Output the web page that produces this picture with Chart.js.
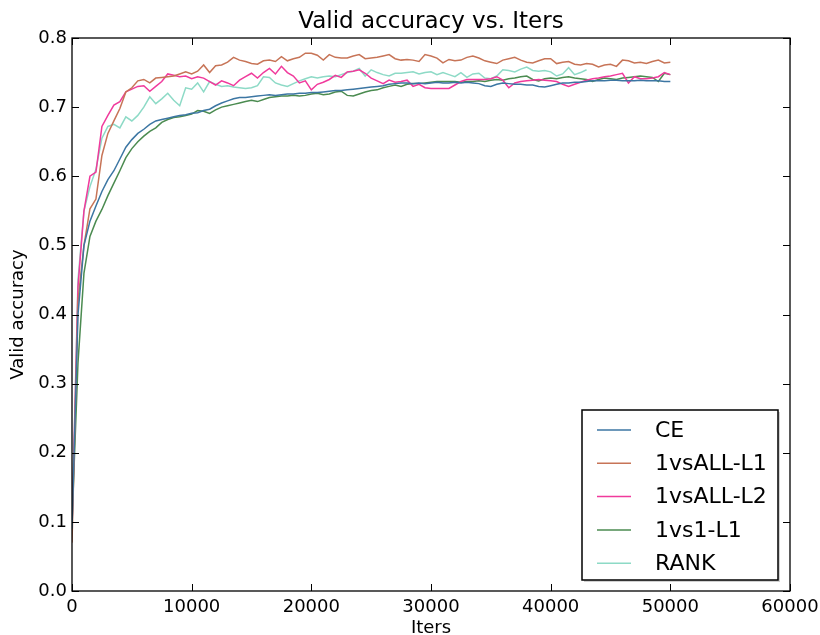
<!DOCTYPE html>
<html>
<head>
<meta charset="utf-8">
<title>Valid accuracy vs. Iters</title>
<script src="https://cdn.jsdelivr.net/npm/chart.js@4.4.1/dist/chart.umd.min.js"></script>
<style>
  html, body { margin: 0; padding: 0; background: #fff; }
  #wrap { width: 820px; height: 635px; }
</style>
</head>
<body>
<div id="wrap"><canvas id="accChart" width="820" height="635"></canvas></div>
<script>
// evaluation every 500 iterations, 0 .. 50000
const EVAL_EVERY = 500;

const seriesNames = ['CE', '1vsALL-L1', '1vsALL-L2', '1vs1-L1', 'RANK'];

const ce = [
  0.09, 0.40, 0.50, 0.535, 0.557, 0.578, 0.595, 0.608, 0.625, 0.642,
  0.653, 0.662, 0.668, 0.675, 0.680, 0.682, 0.684, 0.686, 0.688, 0.689,
  0.691, 0.692, 0.695, 0.697, 0.702, 0.706, 0.709, 0.712, 0.714, 0.714,
  0.715, 0.716, 0.717, 0.718, 0.717, 0.718, 0.719, 0.719, 0.720, 0.720,
  0.721, 0.721, 0.722, 0.723, 0.724, 0.724, 0.725, 0.726, 0.727, 0.728,
  0.729, 0.730, 0.731, 0.733, 0.734, 0.735, 0.735, 0.734, 0.735, 0.734,
  0.735, 0.736, 0.735, 0.735, 0.736, 0.735, 0.736, 0.735, 0.734, 0.731,
  0.730, 0.733, 0.735, 0.734, 0.733, 0.733, 0.732, 0.732, 0.730, 0.729,
  0.731, 0.733, 0.735, 0.735, 0.736, 0.736, 0.737, 0.738, 0.738, 0.738,
  0.739, 0.739, 0.738, 0.738, 0.738, 0.739, 0.738, 0.738, 0.738, 0.737,
  0.737
];

const oneVsAllL1 = [
  0.07, 0.42, 0.50, 0.553, 0.567, 0.630, 0.662, 0.680, 0.698, 0.722,
  0.728, 0.738, 0.740, 0.735, 0.742, 0.743, 0.744, 0.745, 0.748, 0.751,
  0.748, 0.752, 0.761, 0.750, 0.760, 0.761, 0.765, 0.772, 0.768, 0.766,
  0.763, 0.762, 0.767, 0.768, 0.766, 0.773, 0.767, 0.770, 0.772, 0.778,
  0.778, 0.775, 0.768, 0.776, 0.772, 0.771, 0.771, 0.774, 0.776, 0.770,
  0.771, 0.772, 0.774, 0.776, 0.770, 0.768, 0.769, 0.768, 0.766, 0.776,
  0.774, 0.771, 0.764, 0.769, 0.767, 0.768, 0.772, 0.774, 0.771, 0.767,
  0.765, 0.763, 0.768, 0.770, 0.772, 0.768, 0.765, 0.764, 0.767, 0.770,
  0.770, 0.763, 0.765, 0.766, 0.762, 0.761, 0.763, 0.762, 0.758, 0.761,
  0.762, 0.759, 0.768, 0.767, 0.764, 0.765, 0.763, 0.766, 0.768, 0.764,
  0.765
];

const oneVsAllL2 = [
  0.09, 0.44, 0.55, 0.600, 0.606, 0.672, 0.688, 0.703, 0.708, 0.722,
  0.726, 0.730, 0.731, 0.723, 0.730, 0.737, 0.748, 0.746, 0.744, 0.745,
  0.741, 0.744, 0.742, 0.737, 0.732, 0.738, 0.735, 0.731, 0.739, 0.744,
  0.749, 0.742, 0.750, 0.756, 0.748, 0.759, 0.750, 0.745, 0.735, 0.738,
  0.725, 0.733, 0.736, 0.740, 0.746, 0.743, 0.751, 0.752, 0.754, 0.749,
  0.742, 0.738, 0.734, 0.739, 0.736, 0.737, 0.739, 0.730, 0.733, 0.728,
  0.727, 0.727, 0.727, 0.727, 0.732, 0.737, 0.740, 0.740, 0.740, 0.740,
  0.741, 0.744, 0.739, 0.728, 0.735, 0.737, 0.738, 0.739, 0.740, 0.739,
  0.738, 0.737, 0.733, 0.730, 0.733, 0.736, 0.739, 0.741, 0.742, 0.744,
  0.745, 0.747, 0.749, 0.735, 0.744, 0.741, 0.741, 0.742, 0.744, 0.750,
  0.747
];

const oneVsOneL1 = [
  0.10, 0.33, 0.46, 0.513, 0.535, 0.552, 0.572, 0.590, 0.608, 0.627,
  0.640, 0.650, 0.658, 0.665, 0.670, 0.678, 0.682, 0.685, 0.686, 0.688,
  0.690, 0.695, 0.694, 0.691, 0.696, 0.700, 0.702, 0.704, 0.706, 0.708,
  0.710, 0.708, 0.711, 0.714, 0.715, 0.716, 0.716, 0.717, 0.716, 0.717,
  0.719, 0.720, 0.718, 0.719, 0.722, 0.723, 0.717, 0.716, 0.719, 0.722,
  0.724, 0.725, 0.728, 0.730, 0.732, 0.730, 0.733, 0.734, 0.734, 0.735,
  0.736, 0.737, 0.737, 0.737, 0.737, 0.736, 0.737, 0.737, 0.738, 0.737,
  0.739, 0.740, 0.739, 0.741, 0.742, 0.744, 0.745, 0.740, 0.738, 0.741,
  0.742, 0.741, 0.743, 0.744, 0.742, 0.741, 0.740, 0.737, 0.740, 0.742,
  0.741, 0.740, 0.742, 0.743, 0.744, 0.745, 0.744, 0.743, 0.737, 0.749,
  0.747
];

// RANK stops at 43000
const rank = [
  0.09, 0.45, 0.55, 0.585, 0.610, 0.655, 0.672, 0.675, 0.670, 0.686,
  0.680, 0.688, 0.700, 0.715, 0.705, 0.712, 0.720, 0.710, 0.702, 0.728,
  0.726, 0.735, 0.722, 0.737, 0.733, 0.730, 0.731, 0.729, 0.728, 0.727,
  0.728, 0.731, 0.744, 0.743, 0.735, 0.732, 0.730, 0.734, 0.738, 0.741,
  0.744, 0.742, 0.744, 0.745, 0.744, 0.747, 0.750, 0.752, 0.756, 0.745,
  0.754, 0.750, 0.747, 0.745, 0.749, 0.749, 0.750, 0.751, 0.748, 0.750,
  0.751, 0.747, 0.750, 0.747, 0.744, 0.750, 0.743, 0.748, 0.749, 0.742,
  0.741, 0.745, 0.754, 0.753, 0.751, 0.755, 0.758, 0.753, 0.752, 0.753,
  0.751, 0.745, 0.748, 0.757, 0.747, 0.750, 0.754
];

const xTicks = [0, 10000, 20000, 30000, 40000, 50000, 60000];
const yTicks = [0.0, 0.1, 0.2, 0.3, 0.4, 0.5, 0.6, 0.7, 0.8];

const lineColors = ['#3c76a3', '#c77457', '#f03a9c', '#4b8b50', '#8ddac6'];

const allSeries = [ce, oneVsAllL1, oneVsAllL2, oneVsOneL1, rank];

function toPoints(values) {
  return values.map((v, i) => ({ x: i * EVAL_EVERY, y: v }));
}

// inward ticks on all four sides + black frame, like matplotlib classic
const framePlugin = {
  id: 'frame',
  afterDatasetsDraw(chart) {
    const { ctx, chartArea: a, scales } = chart;
    const len = 7;
    ctx.save();
    ctx.strokeStyle = '#000';
    ctx.lineWidth = 1;
    ctx.beginPath();
    xTicks.forEach((t) => {
      const px = Math.round(scales.x.getPixelForValue(t)) + 0.5;
      ctx.moveTo(px, a.bottom);
      ctx.lineTo(px, a.bottom - len);
      ctx.moveTo(px, a.top);
      ctx.lineTo(px, a.top + len);
    });
    yTicks.forEach((t) => {
      const py = Math.round(scales.y.getPixelForValue(t)) + 0.5;
      ctx.moveTo(a.left, py);
      ctx.lineTo(a.left + len, py);
      ctx.moveTo(a.right, py);
      ctx.lineTo(a.right - len, py);
    });
    ctx.stroke();
    ctx.lineWidth = 1.3;
    ctx.strokeRect(a.left, a.top, a.right - a.left, a.bottom - a.top);
    ctx.restore();
  },
};

// legend box in the lower right, drawn from the datasets
const legendBoxPlugin = {
  id: 'legendBox',
  afterDraw(chart) {
    const { ctx, chartArea: a } = chart;
    const boxW = 196;
    const boxH = 170;
    const x0 = a.right - 12 - boxW;
    const y0 = a.bottom - 11 - boxH;
    ctx.save();
    ctx.fillStyle = 'rgba(0,0,0,0.18)';
    ctx.fillRect(x0 + 2, y0 + 2, boxW, boxH);
    ctx.fillStyle = '#fff';
    ctx.fillRect(x0, y0, boxW, boxH);
    ctx.strokeStyle = '#000';
    ctx.lineWidth = 1.5;
    ctx.strokeRect(x0, y0, boxW, boxH);
    ctx.font = '22px "DejaVu Sans"';
    ctx.textBaseline = 'middle';
    ctx.fillStyle = '#000';
    chart.data.datasets.forEach((ds, i) => {
      const cy = y0 + 20 + i * 33.3;
      ctx.strokeStyle = ds.borderColor;
      ctx.lineWidth = 1.5;
      ctx.beginPath();
      ctx.moveTo(x0 + 15, cy);
      ctx.lineTo(x0 + 49, cy);
      ctx.stroke();
      ctx.fillText(ds.label, x0 + 73, cy + 1);
    });
    ctx.restore();
  },
};

const ctx = document.getElementById('accChart').getContext('2d');
const chart = new Chart(ctx, {
  type: 'line',
  data: {
    datasets: allSeries.map((values, i) => ({
      label: seriesNames[i],
      data: toPoints(values),
      borderColor: lineColors[i],
      backgroundColor: lineColors[i],
      borderWidth: 1.5,
      pointRadius: 0,
      tension: 0,
      fill: false,
    })),
  },
  options: {
    responsive: false,
    animation: false,
    layout: { padding: { top: 0, right: 30, bottom: 0, left: 0 } },
    plugins: {
      legend: { display: false },
      tooltip: { enabled: false },
      title: {
        display: true,
        fullSize: false,
        text: 'Valid accuracy vs. Iters',
        color: '#000',
        font: { family: 'DejaVu Sans', size: 23, weight: 'normal', lineHeight: 1.2 },
        padding: { top: 8, bottom: 2.4 },
      },
    },
    scales: {
      x: {
        type: 'linear',
        min: 0,
        max: 60000,
        afterBuildTicks(scale) {
          scale.ticks = xTicks.map((v) => ({ value: v }));
        },
        afterFit(scale) {
          scale.height = 44;
          scale.paddingRight = 0;
          scale.paddingLeft = 0;
        },
        grid: { display: false, drawTicks: false },
        border: { display: false },
        ticks: {
          color: '#000',
          padding: 6,
          maxRotation: 0,
          font: { family: 'DejaVu Sans', size: 18 },
          callback: (v) => String(v),
        },
        title: {
          display: true,
          text: 'Iters',
          color: '#000',
          font: { family: 'DejaVu Sans', size: 18, lineHeight: 1 },
          padding: { top: 0, bottom: -2 },
        },
      },
      y: {
        min: 0,
        max: 0.8,
        afterBuildTicks(scale) {
          scale.ticks = yTicks.map((v) => ({ value: v }));
        },
        afterFit(scale) { scale.width = 72; },
        grid: { display: false, drawTicks: false },
        border: { display: false },
        ticks: {
          color: '#000',
          padding: 5,
          font: { family: 'DejaVu Sans', size: 18 },
          callback: (v) => v.toFixed(1),
        },
        title: {
          display: true,
          text: 'Valid accuracy',
          color: '#000',
          font: { family: 'DejaVu Sans', size: 18, lineHeight: 1.2 },
          padding: { top: 8, bottom: 0 },
        },
      },
    },
  },
  plugins: [framePlugin, legendBoxPlugin],
});
</script>
</body>
</html>
